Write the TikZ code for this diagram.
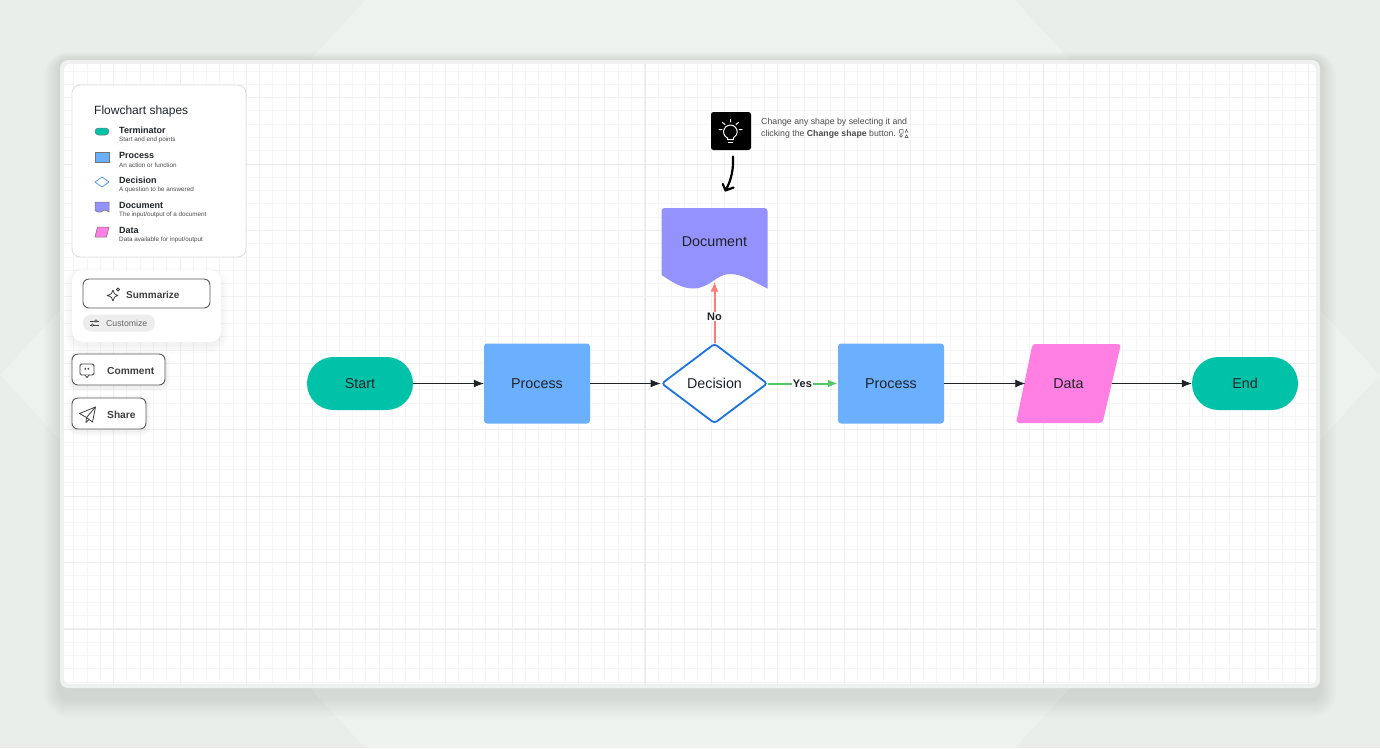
\documentclass[tikz,border=0pt]{standalone}
\usepackage{fontspec}
\setmainfont{Liberation Sans}
\usepackage{xcolor}
\usetikzlibrary{arrows.meta,positioning,shapes.geometric,shapes.misc,calc}
\definecolor{pagebg}{HTML}{E9EEEA}
\definecolor{pagelight}{HTML}{EEF2EF}
\definecolor{framebg}{HTML}{EEF1EF}
\definecolor{gridfine}{HTML}{F6F6F6}
\definecolor{gridmid}{HTML}{F0F0F0}
\definecolor{gridbold}{HTML}{EAEAEA}
\definecolor{inkdark}{HTML}{1F2328}
\definecolor{termgreen}{HTML}{00C2A8}
\definecolor{procblue}{HTML}{6BB0FF}
\definecolor{decblue}{HTML}{1A73E0}
\definecolor{docviolet}{HTML}{9492FF}
\definecolor{datapink}{HTML}{FF80E2}
\definecolor{norose}{HTML}{FF7A7A}
\definecolor{yesgreen}{HTML}{55C866}
\tikzset{
  flowtext/.style={inner sep=0, font=\fontsize{14.3}{16}\selectfont, text=inkdark},
  terminator/.style={flowtext, rounded rectangle, fill=termgreen, minimum width=106, minimum height=53},
  process/.style={flowtext, rectangle, rounded corners=3, fill=procblue, minimum width=106, minimum height=80},
  decision/.style={flowtext, diamond, draw=decblue, line width=1.8, rounded corners=3, fill=white, aspect=1.33, minimum width=106, minimum height=80},
  datashape/.style={flowtext, minimum width=86, minimum height=79},
  docshape/.style={flowtext, minimum width=106, minimum height=66},
  link/.style={-{Latex[length=10,width=8]}, line width=0.8, draw=inkdark},
  panel/.style={rectangle, draw=#1, line width=0.9, rounded corners=8, fill=white, inner sep=0},
  softpanel/.style={rectangle, rounded corners=11, fill=white, inner sep=0},
  button/.style={rectangle, draw=black!65, line width=0.9, rounded corners=6, fill=white, inner sep=0},
  legendhead/.style={anchor=west, inner sep=0, font=\fontsize{9}{10}\selectfont\bfseries, text=inkdark},
  legendsub/.style={anchor=west, inner sep=0, font=\fontsize{6.3}{7}\selectfont, text=black!70},
  buttontext/.style={anchor=west, inner sep=0, font=\fontsize{10}{11}\selectfont\bfseries, text=black!75},
  tiptext/.style={anchor=west, inner sep=0, font=\fontsize{8.75}{11}\selectfont, text=black!70},
  branchlabel/.style={fill=white, inner sep=0.6, font=\fontsize{11}{13}\selectfont\bfseries, text=inkdark},
  icon/.style={line width=0.8, draw=black!75, line join=round},
}

\begin{document}
\begin{tikzpicture}[x=1pt,y=-1pt]
  \useasboundingbox (0,0) rectangle (1380,748);
  \fill[pagebg] (0,0) rectangle (1380,748);
  % lighter facets behind the frame
  \fill[pagelight] (310,60) -- (365,0) -- (1015,0) -- (1070,60) -- cycle;
  \fill[pagelight] (310,688) -- (365,748) -- (1015,748) -- (1070,688) -- cycle;
  \fill[pagelight] (60,310) -- (0,375) -- (60,440) -- cycle;
  \fill[pagelight] (1320,310) -- (1380,375) -- (1320,440) -- cycle;
  % frame shadow
  \foreach \s in {2,4,...,16} {
    \fill[black, opacity=0.01, rounded corners=8+\s] (60-\s,60-0.5*\s) rectangle (1320+\s,698+1.2*\s);
  }
  \fill[framebg, rounded corners=8] (60,60) rectangle (1320,688);
  \fill[white, rounded corners=6] (64,64) rectangle (1316,684);
  % grid
  \begin{scope}
    \clip[rounded corners=6] (64,64) rectangle (1316,684);
    \foreach \i in {0,...,94} {\draw[gridfine, line width=0.8] (73.66+\i*13.28,64) -- (73.66+\i*13.28,684);}
    \foreach \i in {0,...,46} {\draw[gridfine, line width=0.8] (64,71.04+\i*13.28) -- (1316,71.04+\i*13.28);}
    \foreach \i in {0,...,18} {\draw[gridmid, line width=0.8] (113.5+\i*66.4,64) -- (113.5+\i*66.4,684);}
    \foreach \i in {0,...,9} {\draw[gridmid, line width=0.8] (64,97.6+\i*66.4) -- (1316,97.6+\i*66.4);}
    \foreach \x in {645,1043} {\draw[gridbold, line width=0.8] (\x,64) -- (\x,684);}
    \foreach \y in {164,496,629} {\draw[gridbold, line width=0.8] (64,\y) -- (1316,\y);}
  \end{scope}
  % legend
  \node[panel=black!12, minimum width=174, minimum height=172] (legend) at (159,171) {};
  \node[anchor=west, inner sep=0, font=\fontsize{12}{14}\selectfont, text=inkdark] (legendtitle) at (94,111.3) {Flowchart shapes};
  \fill[termgreen, draw=black!55, line width=0.5, rounded corners=3.5] (95,128) rectangle (109,135);
  \fill[procblue, draw=black!55, line width=0.5] (95,152) rectangle (109,162);
  \draw[decblue!80, line width=0.7, fill=white] (95,182) -- (102,177) -- (109,182) -- (102,187) -- cycle;
  \fill[docviolet, draw=black!55, line width=0.5] (95,202) -- (109,202) -- (109,212) .. controls (105,209) and (103,210) .. (101,212) .. controls (99,213) and (97,212) .. (95,210.5) -- cycle;
  \fill[datapink, draw=black!55, line width=0.5] (97.5,227) -- (109,227) -- (106.5,237) -- (95,237) -- cycle;
  \node[legendhead] (termhead) at (119,130) {Terminator};
  \node[legendsub] (termsub) at (119,140) {Start and end points};
  \node[legendhead] (prochead) at (119,155) {Process};
  \node[legendsub] (procsub) at (119,165) {An action or function};
  \node[legendhead] (dechead) at (119,180) {Decision};
  \node[legendsub] (decsub) at (119,190) {A question to be answered};
  \node[legendhead] (dochead) at (119,205) {Document};
  \node[legendsub] (docsub) at (119,215) {The input/output of a document};
  \node[legendhead] (datahead) at (119,230) {Data};
  \node[legendsub] (datasub) at (119,240) {Data available for input/output};
  % summarize panel
  \foreach \s in {1,3,5,7} {
    \fill[black, opacity=0.01, rounded corners=11+\s] (72-\s,270-\s+4) rectangle (221+\s,342+\s+4);
  }
  \node[softpanel, minimum width=149, minimum height=72] (sumpanel) at (146.5,306) {};
  \node[button, minimum width=127, minimum height=29] (sumbutton) at (146.5,293.5) {};
  \draw[icon] (113,290) .. controls (113.5,293) and (114.5,294.5) .. (118,295.5) .. controls (114.5,296.5) and (113.5,298) .. (113,301) .. controls (112.5,298) and (111.5,296.5) .. (107,295.5) .. controls (111.5,294.5) and (112.5,293) .. (113,290);
  \draw[icon] (118,288) -- (119.5,289.5) -- (118,291) -- (116.5,289.5) -- cycle;
  \node[buttontext] (sumtext) at (126,295.3) {Summarize};
  \node[rectangle, rounded corners=8, fill=black!7, minimum width=72, minimum height=17, inner sep=0] (custompill) at (119,323) {};
  \draw[icon, line width=0.6] (90,321) -- (99,321) (90,325) -- (99,325);
  \fill[white, draw=black!75, line width=0.6] (96,321) circle (1.2) (92.5,325) circle (1.2);
  \node[anchor=west, inner sep=0, font=\fontsize{8.7}{10}\selectfont, text=black!60] (customtext) at (106,323.5) {Customize};
  % comment and share
  \foreach \s in {1,...,5} {
    \fill[black, opacity=0.01, rounded corners=6+\s] (72-\s,354-\s+2) rectangle (165+\s,385+\s+2);
    \fill[black, opacity=0.01, rounded corners=6+\s] (72-\s,398-\s+2) rectangle (146+\s,429+\s+2);
  }
  \node[button, minimum width=93, minimum height=31] (commentbutton) at (118.5,369.5) {};
  \draw[icon, rounded corners=1.5] (80,364) rectangle (94,375);
  \fill[white] (85,374.5) rectangle (89,375.6);
  \draw[icon] (85,375) -- (87,377.5) -- (89,375);
  \fill[black!75] (84.6,367.8) rectangle (86,369.6) (87.6,367.8) rectangle (89,369.6);
  \node[buttontext, font=\fontsize{10.2}{11}\selectfont\bfseries] (commenttext) at (107,371.3) {Comment};
  \node[button, minimum width=74, minimum height=31] (sharebutton) at (109,413.5) {};
  \draw[icon] (79.5,413.5) -- (95.5,407) -- (92.5,422) -- (86.5,417.5) -- cycle;
  \draw[icon] (86.5,417.5) -- (95.5,407) (86.5,417.5) -- (86,422.5) -- (89,419.5);
  \node[buttontext, font=\fontsize{10.2}{11}\selectfont\bfseries] (sharetext) at (107,415.3) {Share};
  % tip
  \node[rectangle, rounded corners=2.5, fill=black, minimum width=40, minimum height=38, inner sep=0] (bulbbox) at (731,131) {};
  \draw[white, line width=1, line cap=round] (727.5,139.5) -- ++(0,-1.5) arc[start angle=115, end angle=425, radius=6.8] -- ++(0,1.5) -- cycle;
  \draw[white, line width=1, line cap=round] (728.3,142) -- (732.7,142);
  \draw[white, line width=1, line cap=round] (730.5,119.5) -- (730.5,122) (722.5,122.5) -- (725,124.5) (738.5,122.5) -- (736,124.5) (719,129.5) -- (722,129.5) (739,129.5) -- (742,129.5);
  \node[tiptext] (tipone) at (761,122) {Change any shape by selecting it and};
  \node[tiptext] (tiptwo) at (761,134) {clicking the \textbf{Change shape} button.};
  \draw[black!70, line width=0.5] (899.5,129.5) rectangle (903,133) (905,133) -- (906.5,129.5) -- (908,133) (901,135.8) circle (1.4);
  \draw[black!70, line width=0.5] (905,137.5) -- (906.5,134.8) -- (908,137.5) -- cycle;
  % main flow
  \fill[docviolet] (661.5,211) arc[start angle=180, end angle=270, radius=3] -- (764.5,208) arc[start angle=270, end angle=360, radius=3] -- (767.5,288.5) .. controls (752,281) and (742,274) .. (730,274) .. controls (716,274) and (710,288.5) .. (693,288.5) .. controls (682,288.5) and (672,282) .. (661.5,275) -- cycle;
  \fill[datapink, rounded corners=3] (1032.5,344) -- (1121,344) -- (1102.5,423) -- (1016,423) -- cycle;
  \node[terminator] (start) at (360,383.5) {Start};
  \node[process] (procone) at (537,383.5) {Process};
  \node[decision] (choice) at (714.5,383.5) {Decision};
  \node[process] (proctwo) at (891,383.5) {Process};
  \node[datashape] (datanode) at (1068.5,383.5) {Data};
  \node[terminator] (finish) at (1245,383.5) {End};
  \node[docshape] (docnode) at (714.5,242) {Document};
  \coordinate (docdip) at (714.5,281.5);
  \draw[link] (start) -- (procone);
  \draw[link] (procone) -- (choice);
  \draw[link] (proctwo) -- (datanode);
  \draw[link] (datanode) -- (finish);
  \draw[link, draw=yesgreen, line width=2] (choice) -- node[branchlabel, pos=0.49] (yeslabel) {Yes} (proctwo);
  \draw[link, draw=norose, line width=2] (choice) -- node[branchlabel, pos=0.43] (nolabel) {No} (docdip);
  % hand drawn pointer
  \coordinate (pointerstart) at (733,156.5);
  \coordinate (pointertip) at (725.5,190.5);
  \draw[black, line width=2.2, line cap=round, line join=round] (pointerstart) .. controls (733.5,168) and (732,179) .. (pointertip) -- (722.8,184) (pointertip) -- (733.5,187.5);
\end{tikzpicture}
\end{document}
